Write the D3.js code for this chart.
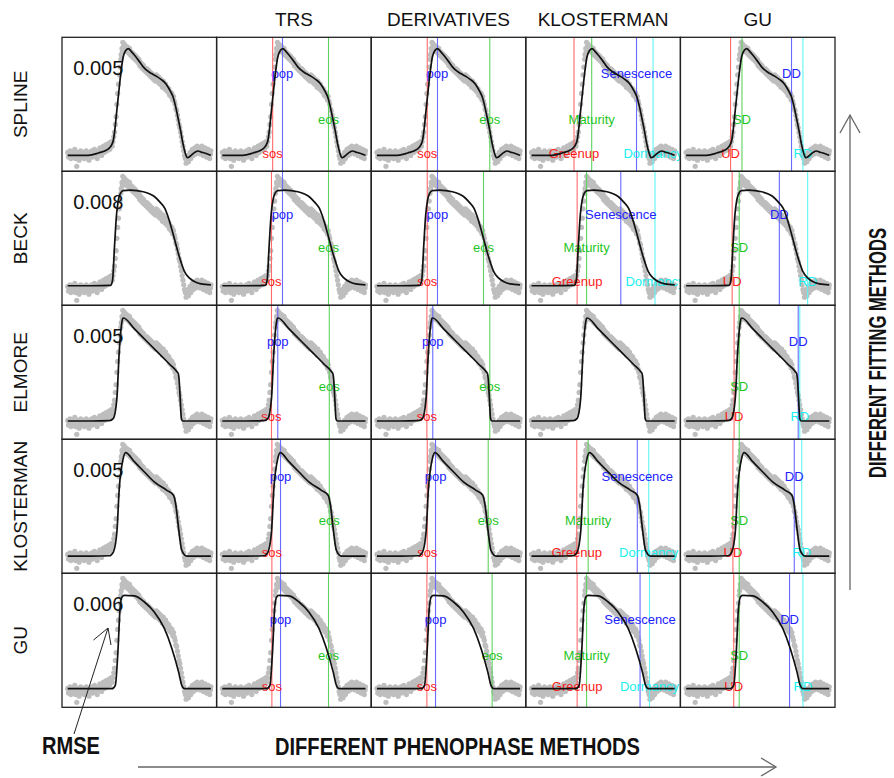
<!DOCTYPE html>
<html>
<head>
<meta charset="utf-8">
<script src="https://cdn.jsdelivr.net/npm/d3@7"></script>
<style>
  body { margin: 0; background: #fff; }
  svg { display: block; }
  text { font-family: "Liberation Sans", Arial, Helvetica, sans-serif; }
</style>
</head>
<body>
<svg id="chart" width="894" height="778"></svg>
<script>
// Fitting methods (rows) and phenophase extraction methods (columns 2-5)
const fittingMethods = ["SPLINE", "BECK", "ELMORE", "KLOSTERMAN", "GU"];
const phenoMethods = ["TRS", "DERIVATIVES", "KLOSTERMAN", "GU"];
const rmseLabels = ["0.005", "0.008", "0.005", "0.005", "0.006"];

// Observed vegetation index: [day of year, value]
const observations = [
  [1,.19],[3,.16],[5,.18],[7,.2],[9,.15],[11,.17],[13,.19],[15,.16],[17,.18],[19,.21],
  [21,.15],[24,.1],[26,.17],[28,.19],[30,.14],[32,.18],[34,.2],[36,.16],[38,.17],[41,.19],
  [43,.15],[45,.18],[48,.2],[50,.16],[52,.18],[55,.14],[57,.19],[59,.17],[62,.2],[64,.16],
  [66,.18],[69,.21],[71,.17],[73,.19],[76,.15],[78,.2],[80,.18],[83,.22],[85,.19],[87,.17],
  [90,.21],[92,.23],[94,.19],[97,.22],[99,.24],[101,.2],[104,.23],[106,.25],[108,.21],[110,.24],
  [112,.26],[114,.23],[116,.26],[118,.29],[120,.32],[122,.37],[124,.42],[126,.5],[128,.57],[130,.63],
  [132,.69],[134,.74],[136,.79],[137,.82],[139,.86],[140,.84],[141,.9],[143,.87],[144,.89],[146,.85],
  [147,.88],[149,.86],[151,.84],[152,.87],[154,.85],[156,.83],[158,.86],[160,.82],[162,.84],[164,.81],
  [166,.83],[168,.8],[170,.82],[172,.79],[174,.81],[176,.78],[178,.8],[180,.77],[182,.79],[184,.75],
  [186,.77],[188,.74],[190,.76],[192,.73],[194,.75],[196,.72],[198,.73],[200,.71],[202,.73],[204,.7],
  [206,.72],[208,.69],[210,.71],[212,.68],[214,.7],[216,.67],[218,.69],[220,.66],[222,.68],[224,.65],
  [226,.69],[228,.66],[230,.68],[232,.64],[234,.67],[236,.63],[238,.66],[240,.64],[242,.61],[244,.65],
  [246,.62],[248,.6],[250,.63],[252,.59],[254,.61],[256,.58],[258,.6],[260,.56],[262,.58],[264,.55],
  [266,.57],[268,.53],[270,.55],[272,.52],[274,.5],[276,.47],[278,.46],[280,.43],[282,.4],[284,.37],
  [286,.35],[288,.32],[290,.29],[292,.26],[294,.23],[296,.2],[298,.17],[300,.15],[302,.12],[304,.14],
  [306,.17],[308,.13],[310,.16],[312,.19],[314,.15],[316,.18],[318,.21],[320,.17],[322,.2],[324,.22],
  [326,.18],[328,.21],[330,.23],[332,.19],[334,.22],[336,.2],[338,.18],[340,.21],[342,.23],[344,.19],
  [346,.17],[348,.2],[350,.22],[352,.18],[354,.16],[356,.19],[358,.21],[360,.17],[362,.15],[364,.18],
  [365,.2]
];

// Fitted curves, one per fitting method: [day of year, value]
const splineFit = [
  [1,.171],[30,.171],[53,.171],[79,.186],[100,.205],[108,.221],[113,.24],[117,.268],[121,.34],
  [125,.44],[130,.56],[134,.655],[138,.74],[142,.805],[148,.845],[155,.859],[163,.84],[171,.816],
  [182,.78],[193,.741],[204,.715],[214,.698],[227,.68],[239,.659],[248,.64],[256,.612],[263,.58],
  [269,.547],[275,.49],[281,.418],[288,.33],[294,.246],[300,.185],[305,.156],[310,.16],[315,.171],
  [324,.19],[332,.199],[340,.192],[349,.186],[358,.178],[365,.171]
];
const beckFit = [
  [1,.194],[60,.194],[110,.196],[115,.23],[120,.45],[125,.65],[130,.75],[135,.79],[142,.807],
  [160,.81],[193,.8],[210,.785],[222,.768],[235,.735],[248,.693],[256,.64],[265,.564],[273,.49],
  [281,.414],[290,.34],[298,.285],[310,.245],[324,.22],[340,.206],[365,.2]
];
const elmoreFit = [
  [1,.186],[60,.186],[107,.188],[117,.203],[126,.332],[132,.633],[138,.81],[141,.848],[143,.85],
  [170,.781],[200,.705],[230,.629],[260,.552],[278,.506],[282,.492],[284,.46],[287,.332],
  [290,.2],[293,.186],[320,.186],[365,.186]
];
const klostermanFit = [
  [1,.179],[60,.179],[107,.181],[117,.205],[126,.334],[132,.614],[142,.807],[148,.846],
  [171,.786],[196,.721],[221,.657],[253,.603],[270,.571],[276,.506],[283,.355],[291,.216],
  [304,.179],[365,.179]
];
const guFit = [
  [1,.188],[60,.188],[113,.188],[122,.21],[129,.446],[134,.704],[139,.779],[145,.79],
  [171,.786],[196,.747],[221,.683],[247,.575],[266,.446],[283,.295],[291,.21],[298,.188],[365,.188]
];
const fits = [splineFit, beckFit, elmoreFit, klostermanFit, guFit];

// Phenophase dates (day of year), one row per fitting method
const trsDates = [[129,154,271],[126,154,271],[126,142,273],[127,149,273],[127,149,271]];
const derivDates = [[129,155,288],[129,155,272],[128,143,288],[129,150,284],[128,150,294]];
const klostermanDates = [[109,154,268,310],[117,141,228,315],null,[116,145,270,299],[117,141,277,301]];
const guDates = [[114,143,269,298],[118,136,238,310],[123,136,286,290],[120,136,276,295],[122,136,264,298]];

// Phenophase names, colours and label heights (0 low, 1 mid, 2 high)
const trsNames = ["sos", "pop", "eos"];
const klostermanNames = ["Greenup", "Maturity", "Senescence", "Dormancy"];
const guNames = ["UD", "SD", "DD", "RD"];
const trsColors = ["red", "blue", "green"];
const fourColors = ["red", "green", "blue", "cyan"];
const trsLevels = [0, 2, 1];
const fourLevels = [0, 1, 2, 0];

// Label heights (value units) per fitting method: [low, mid, high]
const labelLevels = [
  [0.184, 0.403, 0.70], [0.22, 0.439, 0.657], [0.214, 0.407, 0.702],
  [0.205, 0.407, 0.695], [0.205, 0.403, 0.635]
];

const lineColor = { red: "#ff6a6a", blue: "#6a6aff", green: "#5fd35f", cyan: "#5ff5f5" };
const textColor = { red: "#ff1a1a", blue: "#2222ff", green: "#1fc51f", cyan: "#19f0f0" };

const svg = d3.select("#chart");
const gridLeft = 62, gridTop = 37.3, pw = 154.6, ph = 134;

// R-style 4% axis padding
const pad = (lo, hi) => { const r = hi - lo; return [lo - 0.04 * r, hi + 0.04 * r]; };
const x = d3.scaleLinear().domain(pad(1, 365)).range([0, pw]);
const yExt = d3.extent(observations, d => d[1]);
const y = d3.scaleLinear().domain(pad(yExt[0], yExt[1])).range([ph, 0]);

const line = d3.line().x(d => x(d[0])).y(d => y(d[1])).curve(d3.curveMonotoneX);

svg.append("defs").append("clipPath").attr("id", "panelClip")
  .append("rect").attr("width", pw).attr("height", ph);

function panelSpec(row, col) {
  if (col === 1) return { dates: trsDates[row], names: trsNames, colors: trsColors, levels: trsLevels };
  if (col === 2) return { dates: derivDates[row], names: trsNames, colors: trsColors, levels: trsLevels };
  if (col === 3) return { dates: klostermanDates[row], names: klostermanNames, colors: fourColors, levels: fourLevels };
  if (col === 4) return { dates: guDates[row], names: guNames, colors: fourColors, levels: fourLevels };
  return null;
}

fittingMethods.forEach((method, row) => {
  for (let col = 0; col < 5; col++) {
    const outer = svg.append("g")
      .attr("transform", `translate(${gridLeft + col * pw},${gridTop + row * ph})`);
    const g = outer.append("g").attr("clip-path", "url(#panelClip)");

    const spec = panelSpec(row, col);
    const marks = spec && spec.dates
      ? spec.dates.map((d, i) => ({ day: d, name: spec.names[i], color: spec.colors[i], level: spec.levels[i] }))
      : [];

    // observations
    g.selectAll("circle").data(observations).join("circle")
      .attr("cx", d => x(d[0])).attr("cy", d => y(d[1]))
      .attr("r", 2.6).attr("fill", "#bebebe");

    // phenophase lines
    g.selectAll("line.pheno").data(marks).join("line")
      .attr("class", "pheno")
      .attr("x1", d => x(d.day)).attr("x2", d => x(d.day))
      .attr("y1", 0).attr("y2", ph)
      .attr("stroke", d => lineColor[d.color]).attr("stroke-width", 1.1);

    // phenophase labels
    g.selectAll("text.pheno").data(marks).join("text")
      .attr("class", "pheno")
      .attr("x", d => x(d.day))
      .attr("y", d => y(labelLevels[row][d.level]))
      .attr("dy", "0.36em")
      .attr("text-anchor", "middle")
      .attr("font-size", 13)
      .attr("fill", d => textColor[d.color])
      .text(d => d.name);

    // fitted curve
    g.append("path").datum(fits[row])
      .attr("d", line).attr("fill", "none")
      .attr("stroke", "#111").attr("stroke-width", 1.7);

    if (col === 0) {
      outer.append("text")
        .attr("x", 11.3).attr("y", 31).attr("dy", "0.36em")
        .attr("font-size", 20).attr("fill", "#111")
        .text(rmseLabels[row]);
    }

    outer.append("rect")
      .attr("width", pw).attr("height", ph)
      .attr("fill", "none").attr("stroke", "#222").attr("stroke-width", 1.3);
  }

  // row label
  const cy = gridTop + row * ph + ph / 2;
  svg.append("text")
    .attr("transform", `translate(27,${cy}) rotate(-90)`)
    .attr("text-anchor", "middle").attr("font-size", 19).attr("fill", "#111")
    .text(method);
});

// column headers
phenoMethods.forEach((m, i) => {
  svg.append("text")
    .attr("x", gridLeft + (i + 1) * pw + pw / 2).attr("y", 26)
    .attr("text-anchor", "middle").attr("font-size", 19).attr("fill", "#111")
    .text(m);
});

// axis titles and arrows
const arrowStroke = "#666";
svg.append("line").attr("x1", 138).attr("y1", 767).attr("x2", 776).attr("y2", 767)
  .attr("stroke", arrowStroke).attr("stroke-width", 1.3);
svg.append("path").attr("d", "M761,758 L776,767 L761,776")
  .attr("fill", "none").attr("stroke", arrowStroke).attr("stroke-width", 1.3);

svg.append("line").attr("x1", 850).attr("y1", 590).attr("x2", 850).attr("y2", 115)
  .attr("stroke", arrowStroke).attr("stroke-width", 1.3);
svg.append("path").attr("d", "M840,133 L850,115 L860,133")
  .attr("fill", "none").attr("stroke", arrowStroke).attr("stroke-width", 1.3);

svg.append("text")
  .attr("x", 457.5).attr("y", 755)
  .attr("text-anchor", "middle").attr("font-size", 23).attr("font-weight", "bold")
  .attr("textLength", 365).attr("lengthAdjust", "spacingAndGlyphs")
  .attr("fill", "#111")
  .text("DIFFERENT PHENOPHASE METHODS");

svg.append("text")
  .attr("transform", "translate(886,353) rotate(-90)")
  .attr("text-anchor", "middle").attr("font-size", 23).attr("font-weight", "bold")
  .attr("textLength", 250).attr("lengthAdjust", "spacingAndGlyphs")
  .attr("fill", "#111")
  .text("DIFFERENT FITTING METHODS");

// RMSE pointer
svg.append("text")
  .attr("x", 42).attr("y", 754)
  .attr("font-size", 23).attr("font-weight", "bold")
  .attr("textLength", 58).attr("lengthAdjust", "spacingAndGlyphs")
  .attr("fill", "#111")
  .text("RMSE");
svg.append("line").attr("x1", 74).attr("y1", 734).attr("x2", 108).attr("y2", 628)
  .attr("stroke", "#222").attr("stroke-width", 1);
svg.append("path").attr("d", "M93.5,640 L108,628 L111,645")
  .attr("fill", "none").attr("stroke", "#222").attr("stroke-width", 1);
</script>
</body>
</html>
